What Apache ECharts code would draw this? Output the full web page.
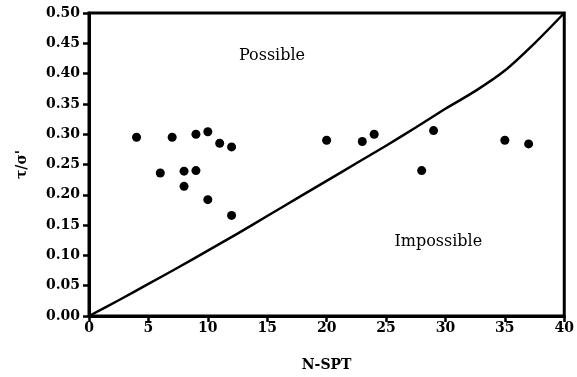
<!DOCTYPE html>
<html>
<head>
<meta charset="utf-8">
<script src="https://cdn.jsdelivr.net/npm/echarts@6/dist/echarts.min.js"></script>
<style>html,body{margin:0;padding:0;background:#fff;}#c{width:577px;height:377px;}</style>
</head>
<body>
<div id="c"></div>
<script>
// Measured data points (N-SPT, tau/sigma')
const nspt = [4, 6, 7, 8, 8, 9, 9, 10, 10, 11, 12, 12, 20, 23, 24, 28, 29, 35, 37];
const ratio = [0.295, 0.236, 0.295, 0.239, 0.214, 0.300, 0.240, 0.304, 0.192, 0.285, 0.279, 0.166, 0.290, 0.288, 0.300, 0.240, 0.306, 0.290, 0.284];
// Boundary curve
const curveX = [0, 2.5, 5, 7.5, 10, 12.5, 15, 17.5, 20, 22.5, 25, 27.5, 30, 32.5, 35, 37.5, 40];
const curveY = [0, 0.026, 0.053, 0.080, 0.108, 0.136, 0.165, 0.194, 0.223, 0.252, 0.281, 0.311, 0.342, 0.371, 0.405, 0.450, 0.500];
// Region annotations
const annoText = ['Possible', 'Impossible'];
const annoX = [15.4, 29.4];
const annoY = [0.43, 0.123];
const xTicks = [0, 5, 10, 15, 20, 25, 30, 35, 40];
const yTicks = [0, 0.05, 0.10, 0.15, 0.20, 0.25, 0.30, 0.35, 0.40, 0.45, 0.50];

const font = 'DejaVu Serif';
const chart = echarts.init(document.getElementById('c'), null, {renderer: 'canvas'});
chart.setOption({
  animation: false,
  backgroundColor: '#fff',
  grid: {left: 89, right: 10, top: 13, bottom: 59, show: true, borderColor: '#000', borderWidth: 3, backgroundColor: 'transparent'},
  xAxis: {
    type: 'value', min: xTicks[0], max: xTicks[xTicks.length - 1], interval: 5,
    name: 'N-SPT', nameLocation: 'middle', nameGap: 42,
    nameTextStyle: {fontFamily: font, fontWeight: 'bold', fontSize: 14, color: '#000'},
    axisLine: {show: true, onZero: false, lineStyle: {color: '#000', width: 3}},
    axisTick: {show: true, inside: false, length: 6, lineStyle: {color: '#000', width: 2.5}},
    axisLabel: {fontFamily: font, fontWeight: 'bold', fontSize: 14, color: '#000', margin: 5},
    splitLine: {show: false}
  },
  yAxis: {
    type: 'value', min: yTicks[0], max: yTicks[yTicks.length - 1], interval: 0.05,
    name: "τ/σ'", nameLocation: 'middle', nameGap: 60, nameRotate: 90,
    nameTextStyle: {fontFamily: font, fontWeight: 'bold', fontSize: 14, color: '#000'},
    axisLine: {show: true, onZero: false, lineStyle: {color: '#000', width: 3}},
    axisTick: {show: true, inside: false, length: 6, lineStyle: {color: '#000', width: 2.5}},
    axisLabel: {fontFamily: font, fontWeight: 'bold', fontSize: 14, color: '#000', margin: 9,
      formatter: v => v.toFixed(2)},
    splitLine: {show: false}
  },
  series: [
    {
      type: 'line', data: curveX.map((x, i) => [x, curveY[i]]),
      smooth: 0.3, symbol: 'none',
      lineStyle: {color: '#000', width: 2.5, opacity: 1}, z: 2
    },
    {
      type: 'scatter', data: nspt.map((x, i) => [x, ratio[i]]),
      symbol: 'circle', symbolSize: 9,
      itemStyle: {color: '#000', opacity: 1}, z: 3
    },
    {
      type: 'scatter', data: annoX.map((x, i) => ({value: [x, annoY[i]], name: annoText[i]})),
      symbolSize: 0, silent: true, itemStyle: {opacity: 1},
      label: {show: true, position: 'inside', formatter: p => p.name,
        fontFamily: font, fontSize: 16, color: '#000', opacity: 1}
    }
  ]
});
</script>
</body>
</html>
